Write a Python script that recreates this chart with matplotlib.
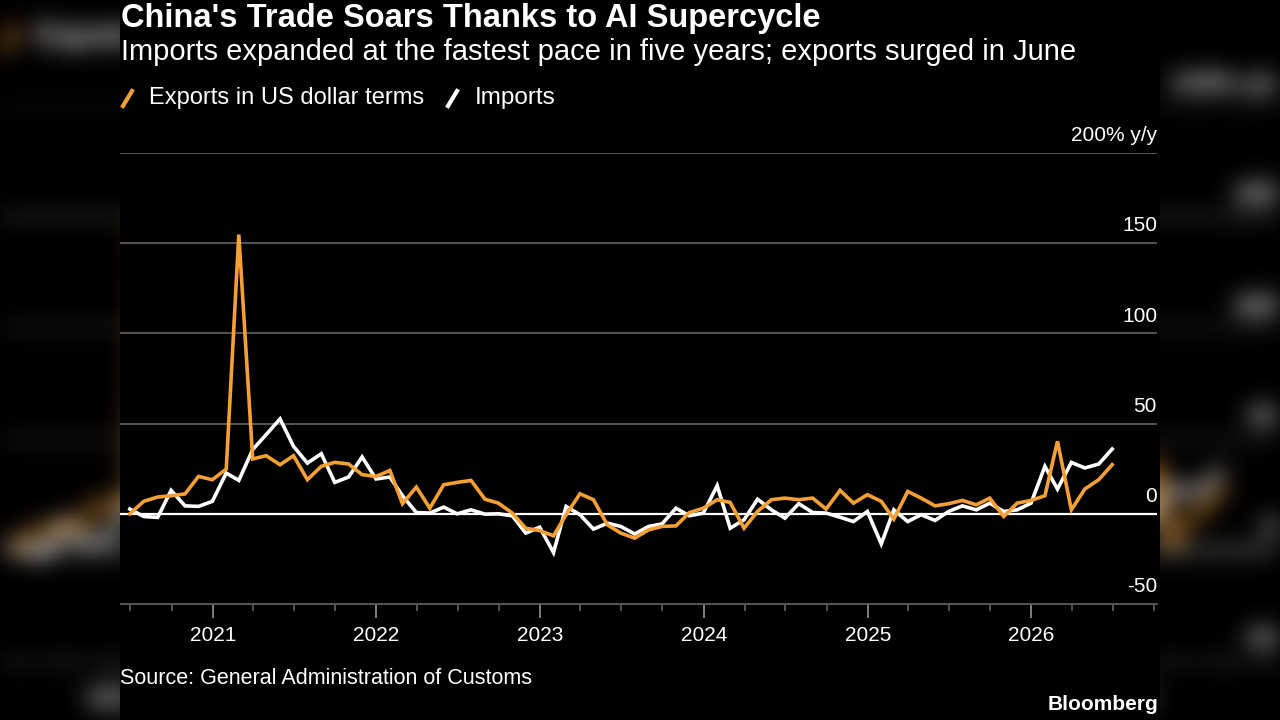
import matplotlib
matplotlib.use("Agg")
import matplotlib.pyplot as plt
import matplotlib.dates as mdates
import matplotlib.transforms as mtransforms
from matplotlib.lines import Line2D
import numpy as np
import pandas as pd

plt.rcParams["font.family"] = ["Liberation Sans", "DejaVu Sans"]

# monthly y/y change, Jun 2020 .. Jun 2026
dates = pd.date_range("2020-06-30", periods=73, freq="ME")

exports = [
    0.0, 6.9, 9.3, 10.0, 11.0, 20.7, 18.9,
    24.8, 154.8, 30.4, 32.2, 27.2, 32.2, 18.9, 26.3, 28.5, 27.6, 21.7, 20.7,
    24.0, 5.6, 14.8, 3.1, 16.1, 17.4, 18.5, 8.1, 5.9, 0.4, -8.0, -9.3,
    -12.2, -0.5, 11.1, 7.8, -6.1, -10.7, -13.5, -8.9, -7.0, -6.7, 0.7, 3.1,
    7.8, 6.3, -8.0, 1.3, 7.8, 8.7, 7.8, 8.7, 2.6, 13.0, 5.9, 10.6,
    6.9, -3.0, 12.4, 8.7, 4.4, 5.6, 7.4, 5.0, 8.7, -1.5, 5.9, 7.4,
    10.0, 40.2, 2.2, 13.7, 18.9, 27.2,
]
imports = [
    2.6, -1.5, -2.0, 13.0, 4.4, 4.1, 6.9,
    22.6, 18.5, 35.6, 43.9, 52.6, 37.4, 28.1, 33.3, 17.4, 20.4, 31.5, 19.3,
    20.4, 10.0, 0.7, 0.4, 3.7, 0.0, 2.2, -0.2, 0.0, -1.1, -10.7, -7.4,
    -21.5, 4.1, -0.5, -8.5, -5.2, -7.0, -11.2, -7.0, -5.6, 3.1, -1.1, 0.4,
    15.6, -8.0, -3.3, 8.1, 2.2, -2.4, 5.6, 0.7, 0.4, -1.9, -4.3, 1.3,
    -16.7, 2.2, -4.3, -0.5, -3.7, 1.3, 4.4, 2.2, 5.9, 1.3, 2.2, 5.9,
    26.3, 13.7, 28.5, 25.4, 27.6, 35.9,
]

y_ticks = [-50, 0, 50, 100, 150, 200]
y_labels = ["-50", "0", "50", "100", "150", "200% y/y"]

ORANGE = "#F5A035"
GRID = "#5c5c5c"

fig = plt.figure(figsize=(12.8, 7.2), dpi=100, facecolor="black")
ax = fig.add_axes([120 / 1280, 1 - 604 / 720, 1037 / 1280, 451 / 720])
ax.set_facecolor("black")

ax.plot(dates, imports, color="white", lw=2.6, solid_joinstyle="miter", zorder=3)
ax.plot(dates, exports, color=ORANGE, lw=2.6, solid_joinstyle="miter", zorder=4)

ax.set_xlim(pd.Timestamp("2020-06-08"), pd.Timestamp("2026-10-08"))
ax.set_ylim(-50, 200)

for v in y_ticks[1:]:
    if v == 0:
        ax.axhline(0, color="white", lw=1.6, zorder=2)
    else:
        ax.axhline(v, color=GRID, lw=1.3, zorder=1)

lab_tr = mtransforms.offset_copy(
    mtransforms.blended_transform_factory(ax.transAxes, ax.transData),
    fig=fig, x=0, y=12.5, units="points",
)
for v, s in zip(y_ticks, y_labels):
    ax.text(1.0, v, s, transform=lab_tr, ha="right", va="center",
            color="white", fontsize=15)

for side in ["left", "right", "top"]:
    ax.spines[side].set_visible(False)
ax.spines["bottom"].set_color(GRID)
ax.spines["bottom"].set_linewidth(1.3)
ax.set_yticks([])

ax.xaxis.set_major_locator(mdates.YearLocator())
ax.xaxis.set_major_formatter(mdates.DateFormatter("%Y"))
ax.xaxis.set_minor_locator(mdates.MonthLocator(bymonth=[1, 4, 7, 10]))
ax.tick_params(axis="x", which="major", length=10, width=1.3, color="#8a8a8a",
               labelcolor="white", labelsize=15, pad=6)
ax.tick_params(axis="x", which="minor", length=5, width=1.1, color="#6a6a6a")

fig.text(121 / 1280, 1 - 19 / 720, "China's Trade Soars Thanks to AI Supercycle",
         color="white", fontsize=23.5, fontweight="bold", va="center")
fig.text(121 / 1280, 1 - 52 / 720,
         "Imports expanded at the fastest pace in five years; exports surged in June",
         color="white", fontsize=21, va="center")

fig.add_artist(Line2D([123 / 1280, 132 / 1280], [1 - 106 / 720, 1 - 91 / 720],
                      color=ORANGE, lw=3, transform=fig.transFigure))
fig.text(149 / 1280, 1 - 98 / 720, "Exports in US dollar terms",
         color="white", fontsize=17, va="center")
fig.add_artist(Line2D([448 / 1280, 457 / 1280], [1 - 106 / 720, 1 - 91 / 720],
                      color="white", lw=3, transform=fig.transFigure))
fig.text(475 / 1280, 1 - 98 / 720, "Imports",
         color="white", fontsize=17.5, va="center")

fig.text(120 / 1280, 1 - 678 / 720, "Source: General Administration of Customs",
         color="white", fontsize=15.5, va="center")
fig.text(1158 / 1280, 1 - 705 / 720, "Bloomberg",
         color="white", fontsize=15, fontweight="bold", va="center", ha="right")

# blurred, enlarged copy of the chart filling the side bars
fig.canvas.draw()
frame = np.asarray(fig.canvas.buffer_rgba())[:, :, :3].astype(float) / 255
content = frame[:, 120:1160]
scale = 1280 / 1040
rows = np.clip(((np.arange(720) + (720 * scale - 720) / 2) / scale).astype(int), 0, 719)
cols = np.clip((np.arange(1280) / scale).astype(int), 0, 1039)
bg = content[rows][:, cols]

sigma = 12.0
k = np.arange(-40, 41)
kern = np.exp(-0.5 * (k / sigma) ** 2)
kern /= kern.sum()
bg = np.apply_along_axis(lambda r: np.convolve(r, kern, mode="same"), 0, bg)
bg = np.apply_along_axis(lambda r: np.convolve(r, kern, mode="same"), 1, bg)
bg = np.clip(bg * 1.5, 0, 1)

fig.figimage(np.ascontiguousarray(bg[:, :120]), xo=0, yo=0, origin="upper", zorder=0)
fig.figimage(np.ascontiguousarray(bg[:, 1160:]), xo=1160, yo=0, origin="upper", zorder=0)

fig.savefig("out.png", dpi=100, facecolor="black")
